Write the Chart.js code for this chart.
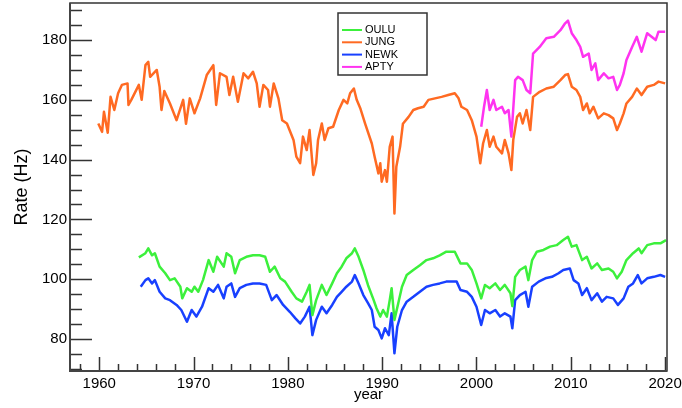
<!DOCTYPE html>
<html>
<head>
<meta charset="utf-8">
<script src="https://cdn.jsdelivr.net/npm/chart.js@4/dist/chart.umd.min.js"></script>
<style>
  html, body { margin: 0; padding: 0; background: #fff; }
  #wrap { width: 682px; height: 408px; }
</style>
</head>
<body>
<div id="wrap"><canvas id="chart" width="682" height="408"></canvas></div>
<script>
'use strict';

// ── Data ─────────────────────────────────────────────────────────────────────
const YEAR_TICKS = [1960, 1970, 1980, 1990, 2000, 2010, 2020];
const RATE_TICKS = [80, 100, 120, 140, 160, 180];

const JUNG_YEARS = [1959.9, 1960.3, 1960.5, 1960.9, 1961.2, 1961.6, 1962.0, 1962.4, 1963.0, 1963.1,
  1963.4, 1964.2, 1964.5, 1964.9, 1965.2, 1965.4, 1966.1, 1966.4, 1966.6, 1966.9,
  1967.5, 1968.2, 1968.9, 1969.2, 1969.6, 1970.1, 1970.7, 1971.4, 1972.1, 1972.4,
  1972.8, 1973.5, 1973.8, 1974.2, 1974.7, 1975.3, 1975.8, 1976.3, 1976.7, 1977.0,
  1977.4, 1977.9, 1978.1, 1978.5, 1979.0, 1979.4, 1979.9, 1980.6, 1980.9, 1981.3,
  1981.6, 1982.0, 1982.3, 1982.7, 1983.0, 1983.2, 1983.6, 1983.9, 1984.3, 1984.8,
  1985.4, 1985.9, 1986.3, 1986.6, 1987.0, 1987.3, 1987.7, 1988.2, 1988.9, 1989.2,
  1989.6, 1989.8, 1989.95, 1990.3, 1990.5, 1990.8, 1991.1, 1991.3, 1991.5, 1991.9,
  1992.2, 1992.8, 1993.3, 1993.8, 1994.4, 1994.9, 1995.6, 1996.3, 1997.0, 1997.7,
  1998.1, 1998.4, 1999.0, 1999.5, 2000.0, 2000.4, 2000.7, 2001.1, 2001.4, 2001.8,
  2002.1, 2002.7, 2003.0, 2003.4, 2003.7, 2003.9, 2004.3, 2004.6, 2004.9, 2005.3,
  2005.7, 2006.0, 2006.7, 2007.4, 2008.2, 2008.9, 2009.4, 2009.7, 2010.1, 2010.6,
  2011.0, 2011.3, 2011.7, 2012.0, 2012.4, 2012.9, 2013.5, 2014.0, 2014.5, 2014.9,
  2015.2, 2015.6, 2015.9, 2016.5, 2017.0, 2017.5, 2018.1, 2018.8, 2019.3, 2020.0];
const JUNG_RATE = [152.1, 149.3, 156, 149, 161, 156.6, 162.2, 165, 165.5, 158.3,
  160, 165, 160, 171.6, 172.7, 167.7, 170, 164.4, 156.6, 163,
  158.8, 153.2, 160, 152, 160.5, 155.5, 160.5, 168.3, 171.6, 158.3,
  168.9, 167.7, 161.6, 167.7, 159.4, 168.9, 167.2, 169.4, 165.5, 157.7,
  165, 163.3, 157.7, 165.5, 160.5, 153.2, 152.1, 146.6, 141, 138.8,
  147.7, 143.2, 149.9, 134.9, 138.8, 146.6, 152.1, 146.6, 150.5, 151,
  156.6, 160, 158.8, 162.2, 163.8, 160, 157, 152, 145.4, 141,
  135.4, 138.8, 132.6, 136.5, 132.6, 144.3, 147.7, 122, 137.6, 144.3,
  152, 154.3, 156.6, 157.2, 157.7, 160, 160.5, 161, 161.6, 162.2,
  160.5, 157.7, 156.6, 153.2, 147.7, 138.8, 145.4, 149.9, 144.3, 147.7,
  144.3, 142.1, 146.6, 142.1, 136.5, 146.6, 154.3, 155.5, 152.1, 156.6,
  149.9, 161, 162.7, 163.8, 164.4, 166.6, 168.3, 168.6, 164.4, 163.3,
  161, 156.6, 158.8, 155.5, 157.7, 153.8, 155.5, 154.9, 153.8, 149.9,
  152.1, 155.5, 158.8, 161, 163.8, 161.6, 164.4, 165, 166.1, 165.5];

const OULU_YEARS = [1964.2, 1964.9, 1965.2, 1965.6, 1965.9, 1966.4, 1967.0, 1967.5, 1968.0, 1968.6,
  1968.8, 1969.3, 1969.8, 1970.1, 1970.5, 1971.0, 1971.6, 1972.1, 1972.5, 1973.2,
  1973.5, 1974.0, 1974.4, 1974.9, 1975.6, 1976.3, 1977.0, 1977.6, 1978.1, 1978.6,
  1979.2, 1979.7, 1980.4, 1980.9, 1981.5, 1982.0, 1982.3, 1982.6, 1983.0, 1983.6,
  1984.1, 1984.7, 1985.2, 1985.7, 1986.2, 1986.8, 1987.1, 1987.5, 1988.0, 1988.5,
  1989.1, 1989.4, 1989.8, 1990.1, 1990.5, 1990.8, 1991.0, 1991.3, 1991.7, 1992.1,
  1992.6, 1993.3, 1994.0, 1994.7, 1995.4, 1996.1, 1996.8, 1997.7, 1998.3, 1999.0,
  1999.5, 2000.0, 2000.5, 2000.9, 2001.4, 2002.0, 2002.5, 2003.0, 2003.6, 2003.8,
  2004.1, 2004.6, 2005.2, 2005.5, 2005.9, 2006.4, 2007.1, 2007.8, 2008.5, 2009.2,
  2009.7, 2010.1, 2010.6, 2011.2, 2011.7, 2012.2, 2012.8, 2013.3, 2014.0, 2014.5,
  2014.9, 2015.4, 2015.9, 2016.6, 2017.2, 2017.5, 2018.1, 2018.8, 2019.5, 2020.1];
const OULU_RATE = [107.3, 108.7, 110.3, 108, 108.7, 104.2, 102, 99.7, 100.3, 97.5,
  93.6, 97, 95.8, 97.5, 95.8, 99.7, 106.4, 102.5, 107.5, 104.2,
  108.7, 107.5, 102, 106.4, 107.5, 108, 108, 107.5, 102.5, 104.2,
  100.3, 99.2, 95.8, 93.6, 92.5, 95.8, 98.1, 88, 93, 98.1,
  94.7, 98.6, 102, 104.2, 107, 108.7, 110.3, 107.5, 103.1, 98,
  93, 90.3, 87.5, 89.7, 87.5, 93, 97, 86.4, 91.9, 97.5,
  101.4, 103.1, 104.7, 106.4, 107, 108, 109.2, 109.2, 105.3, 105.3,
  103.1, 98.6, 93.6, 98.1, 97, 98.6, 96.4, 98.1, 95.3, 91,
  100.8, 103.1, 104.2, 99.7, 106.4, 109.2, 109.8, 110.9, 111.4, 113.1,
  114.2, 110.9, 111.4, 106.4, 107.5, 103.6, 105.3, 103.1, 103.6, 102.5,
  100.3, 102.5, 106.4, 108.7, 110.3, 108.7, 111.4, 112, 112, 113.1];

const NEWK_YEARS = [1964.4, 1964.9, 1965.2, 1965.6, 1965.9, 1966.4, 1967.0, 1967.5, 1968.2, 1968.7,
  1969.3, 1969.8, 1970.3, 1970.9, 1971.6, 1972.1, 1972.6, 1973.2, 1973.5, 1974.0,
  1974.4, 1974.9, 1975.6, 1976.3, 1977.0, 1977.7, 1978.3, 1978.8, 1979.5, 1980.2,
  1980.8, 1981.3, 1981.8, 1982.3, 1982.6, 1983.0, 1983.6, 1984.1, 1984.7, 1985.2,
  1985.7, 1986.2, 1986.8, 1987.1, 1987.5, 1988.0, 1988.5, 1988.9, 1989.2, 1989.6,
  1989.95, 1990.3, 1990.7, 1991.0, 1991.3, 1991.6, 1992.1, 1992.6, 1993.3, 1994.0,
  1994.7, 1995.4, 1996.1, 1996.8, 1997.9, 1998.3, 1999.0, 1999.5, 2000.0, 2000.5,
  2000.9, 2001.4, 2002.0, 2002.5, 2003.0, 2003.6, 2003.8, 2004.1, 2004.6, 2005.2,
  2005.5, 2005.9, 2006.6, 2007.3, 2008.0, 2008.7, 2009.2, 2009.9, 2010.3, 2010.8,
  2011.2, 2011.7, 2012.2, 2012.8, 2013.3, 2013.8, 2014.5, 2015.0, 2015.6, 2016.1,
  2016.6, 2017.1, 2017.5, 2018.1, 2018.8, 2019.5, 2020.0];
const NEWK_RATE = [97.5, 99.7, 100.3, 98.6, 99.7, 95.8, 93.6, 93, 91.4, 89.7,
  85.8, 89.7, 87.5, 90.8, 97, 95.8, 98.1, 93.6, 97.5, 98.6,
  94.1, 97, 98.1, 98.6, 98.6, 98.1, 93, 94.7, 91.4, 89.1,
  86.9, 85.2, 87.5, 90.8, 81.3, 86.4, 90.8, 88.6, 91.4, 94.1,
  95.8, 97.5, 99.2, 101.4, 98.6, 94.7, 92, 89.7, 84.1, 83,
  80.2, 83.6, 81.3, 88.6, 75.2, 84.1, 89.7, 92.5, 94.1, 95.8,
  97.5, 98.1, 98.6, 99.2, 99.2, 96.4, 95.8, 94.1, 90.8, 84.7,
  89.7, 88.6, 89.7, 87.5, 88.6, 87.5, 83.6, 93, 94.7, 95.8,
  90.8, 97.5, 99.2, 100.3, 100.8, 102, 103.1, 103.6, 99.7, 98.6,
  94.7, 97, 93, 95.3, 92.5, 94.1, 93.6, 91.4, 93.6, 97.5,
  98.6, 101.4, 98.6, 100.3, 100.8, 101.4, 100.8];

const APTY_YEARS = [2000.5, 2000.8, 2001.1, 2001.4, 2001.8, 2002.1, 2002.7, 2003.0, 2003.4, 2003.7,
  2004.1, 2004.4, 2004.9, 2005.3, 2005.7, 2006.0, 2006.7, 2007.4, 2008.2, 2008.9,
  2009.4, 2009.7, 2010.1, 2010.6, 2011.0, 2011.3, 2011.9, 2012.2, 2012.6, 2012.9,
  2013.5, 2014.0, 2014.5, 2014.9, 2015.2, 2015.6, 2015.9, 2016.5, 2017.0, 2017.5,
  2018.1, 2019.0, 2019.3, 2020.0];
const APTY_RATE = [151, 157.7, 163.3, 156.6, 160, 156.6, 157.7, 155.5, 156.6, 147.7,
  166.6, 167.7, 166.6, 163.3, 162.2, 175.5, 177.7, 180.6, 181.1, 183.3,
  185.6, 186.5, 182.3, 180, 177.7, 174.4, 175.5, 170, 172.2, 166.6,
  168.9, 167.2, 167.7, 163.3, 165, 168.9, 173.3, 177.7, 181.1, 176.1,
  182.3, 180, 182.8, 182.8];

const SERIES = [
  { label: 'OULU', years: OULU_YEARS, rate: OULU_RATE, color: '#3cf03c' },
  { label: 'JUNG', years: JUNG_YEARS, rate: JUNG_RATE, color: '#ff6a22' },
  { label: 'NEWK', years: NEWK_YEARS, rate: NEWK_RATE, color: '#1840ff' },
  { label: 'APTY', years: APTY_YEARS, rate: APTY_RATE, color: '#ff33f0' },
];

const FONT = '"Liberation Sans", Arial, sans-serif';

// ── Frame + inward ticks (ROOT style) ────────────────────────────────────────
const frameTicks = {
  id: 'frameTicks',
  afterDatasetsDraw(chart) {
    const { ctx, chartArea: a, scales: { x, y } } = chart;
    ctx.save();
    ctx.strokeStyle = '#333';
    ctx.lineWidth = 1.5;
    ctx.beginPath();
    for (let v = 1958; v <= 2020; v += 2) {
      const px = Math.round(x.getPixelForValue(v)) + 0.5;
      const len = v % 10 === 0 ? 14 : 7;
      ctx.moveTo(px, a.bottom); ctx.lineTo(px, a.bottom - len);
    }
    for (let v = 70; v <= 190; v += 5) {
      const py = Math.round(y.getPixelForValue(v)) + 0.5;
      const len = v % 20 === 0 ? 22 : 12;
      ctx.moveTo(a.left, py); ctx.lineTo(a.left + len, py);
    }
    ctx.stroke();

    // frame
    ctx.lineWidth = 1.5;
    ctx.strokeRect(a.left, a.top, a.right - a.left, a.bottom - a.top);
    ctx.lineWidth = 2;
    ctx.strokeStyle = '#444';
    ctx.beginPath();
    ctx.moveTo(a.left, a.top); ctx.lineTo(a.left, a.bottom); ctx.lineTo(a.right, a.bottom);
    ctx.stroke();
    ctx.restore();
  }
};

// ── Legend box inside the frame ──────────────────────────────────────────────
const boxLegend = {
  id: 'boxLegend',
  afterDraw(chart) {
    const { ctx } = chart;
    const bx = 338, by = 13, bw = 89, bh = 62;
    ctx.save();
    ctx.fillStyle = '#fff';
    ctx.fillRect(bx, by, bw, bh);
    ctx.strokeStyle = '#333';
    ctx.lineWidth = 1.5;
    ctx.strokeRect(bx, by, bw, bh);
    ctx.font = '11px ' + FONT;
    ctx.textBaseline = 'middle';
    SERIES.forEach((s, i) => {
      const ly = by + 17 + i * 12.3;
      ctx.strokeStyle = s.color;
      ctx.lineWidth = 2;
      ctx.beginPath();
      ctx.moveTo(bx + 4, ly); ctx.lineTo(bx + 24, ly);
      ctx.stroke();
      ctx.fillStyle = '#000';
      ctx.fillText(s.label, bx + 27, ly);
    });
    ctx.restore();
  }
};

new Chart(document.getElementById('chart'), {
  type: 'line',
  data: {
    datasets: SERIES.map(s => ({
      label: s.label,
      data: s.years.map((yr, i) => ({ x: yr, y: s.rate[i] })),
      borderColor: s.color,
      borderWidth: 2.5,
      borderJoinStyle: 'round',
      pointRadius: 0,
      tension: 0,
      fill: false
    }))
  },
  options: {
    responsive: false,
    animation: false,
    events: [],
    layout: { padding: { top: 3, right: 15, left: 0, bottom: 0 } },
    plugins: { legend: { display: false }, tooltip: { enabled: false } },
    scales: {
      x: {
        type: 'linear',
        min: 1956.9,
        max: 2020.2,
        grid: { display: false, drawTicks: false },
        border: { display: false },
        afterBuildTicks: s => { s.ticks = YEAR_TICKS.map(v => ({ value: v })); },
        afterFit: s => { s.height = 37; s.paddingLeft = 0; s.paddingRight = 0; },
        ticks: {
          padding: 4,
          maxRotation: 0,
          autoSkip: false,
          color: '#000',
          font: { family: FONT, size: 15 },
          callback: v => String(v)
        },
        title: {
          display: true,
          text: 'year',
          color: '#000',
          font: { family: FONT, size: 15 },
          padding: { top: 0, bottom: 4 }
        }
      },
      y: {
        min: 69.3,
        max: 192.4,
        grid: { display: false, drawTicks: false },
        border: { display: false },
        afterBuildTicks: s => { s.ticks = RATE_TICKS.map(v => ({ value: v })); },
        afterFit: s => { s.width = 70; s.paddingTop = 0; s.paddingBottom = 0; },
        ticks: {
          padding: 3,
          autoSkip: false,
          color: '#000',
          font: { family: FONT, size: 15 },
          callback: v => String(v)
        },
        title: {
          display: true,
          text: 'Rate (Hz)',
          color: '#000',
          font: { family: FONT, size: 18 },
          padding: { top: 11, bottom: 0 }
        }
      }
    }
  },
  plugins: [frameTicks, boxLegend]
});
</script>
</body>
</html>
